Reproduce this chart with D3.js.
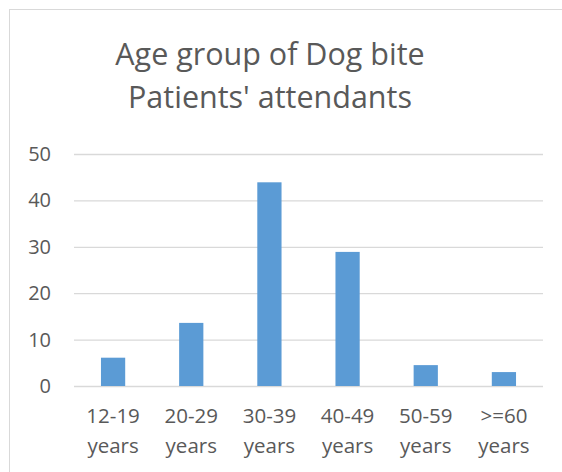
<!DOCTYPE html>
<html>
<head>
<meta charset="utf-8">
<script src="https://cdn.jsdelivr.net/npm/d3@7"></script>
<style>
  body { margin: 0; background: #fff; }
  text { font-family: "Open Sans", sans-serif; fill: #595959; }
</style>
</head>
<body>
<script>
'use strict';

// chart data
const categories = ["12-19 years", "20-29 years", "30-39 years", "40-49 years", "50-59 years", ">=60 years"];
const values = [6.1, 13.6, 43.9, 28.9, 4.5, 3.0];
const yTicks = [0, 10, 20, 30, 40, 50];
const titleLines = ["Age group of Dog bite", "Patients' attendants"];

(function() {

  let svg = "";

  window.onload = function() {
    svg = d3.select('body')
      .append('svg')
      .attr('width', 562)
      .attr('height', 472);

    // chart area border (runs off the right and bottom edges)
    svg.append('rect')
      .attr('x', 9.5)
      .attr('y', 9.5)
      .attr('width', 600)
      .attr('height', 500)
      .attr('fill', '#fff')
      .attr('stroke', '#d9d9d9')
      .attr('stroke-width', 1);

    let map = drawAxes({min: 74, max: 543}, {min: 154, max: 386});
    plotData(map);
    makeLabels();
  }

  // title
  function makeLabels() {
    svg.append('text')
      .attr('x', 270)
      .attr('text-anchor', 'middle')
      .style('font-size', '30.5px')
      .selectAll('tspan')
      .data(titleLines)
      .enter()
      .append('tspan')
        .attr('x', 270)
        .attr('y', (d, i) => 65 + i * 43)
        .text(d => d);
  }

  // gridlines, tick labels and scales
  function drawAxes(rangeX, rangeY) {
    let xScale = d3.scaleBand()
      .domain(categories)
      .range([rangeX.min, rangeX.max])
      .paddingInner(0.69)
      .paddingOuter(0.345);

    let yScale = d3.scaleLinear()
      .domain([0, 50])
      .range([rangeY.max, rangeY.min]);

    // y axis: gridlines + labels
    let yAxis = d3.axisLeft(yScale)
      .tickValues(yTicks)
      .tickSize(-(rangeX.max - rangeX.min))
      .tickPadding(23);

    let gy = svg.append('g')
      .attr('transform', 'translate(' + rangeX.min + ', 0)')
      .call(yAxis);
    gy.select('.domain').remove();
    gy.selectAll('.tick line')
      .attr('stroke', '#d9d9d9')
      .attr('stroke-width', 1.3);
    gy.selectAll('.tick text')
      .style('font-size', '20px')
      .style('font-family', '"Open Sans", sans-serif')
      .attr('fill', '#595959');

    // x axis: two-line category labels
    let xAxis = d3.axisBottom(xScale)
      .tickSize(0)
      .tickPadding(0)
      .tickFormat('');

    let gx = svg.append('g')
      .attr('transform', 'translate(0, ' + rangeY.max + ')')
      .call(xAxis);
    gx.select('.domain').remove();
    gx.selectAll('.tick').each(function(d) {
      let parts = d.split(' ');
      let t = d3.select(this).append('text')
        .attr('text-anchor', 'middle')
        .style('font-size', '20.5px')
        .style('font-family', '"Open Sans", sans-serif')
        .attr('fill', '#595959');
      parts.forEach((p, i) => {
        t.append('tspan')
          .attr('x', 0)
          .attr('y', 37 + i * 30)
          .text(p);
      });
    });

    return { xScale: xScale, yScale: yScale };
  }

  // bars
  function plotData(map) {
    let rows = categories.map((c, i) => ({ cat: c, value: values[i] }));

    svg.selectAll('.bar')
      .data(rows)
      .enter()
      .append('rect')
        .attr('class', 'bar')
        .attr('x', d => map.xScale(d.cat))
        .attr('y', d => map.yScale(d.value))
        .attr('width', map.xScale.bandwidth())
        .attr('height', d => map.yScale(0) - map.yScale(d.value))
        .attr('fill', '#5b9bd5');
  }

})();
</script>
</body>
</html>
